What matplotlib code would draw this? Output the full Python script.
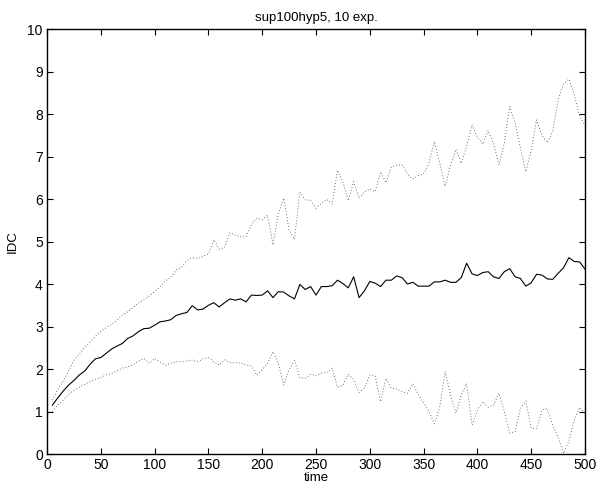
import numpy as np
import matplotlib
matplotlib.use("Agg")
import matplotlib.pyplot as plt

plt.rcParams['font.family'] = ['Liberation Sans', 'DejaVu Sans']

time = list(range(5, 501, 5))

mean_idc = [1.15, 1.32, 1.48, 1.62, 1.73, 1.86, 1.95, 2.11, 2.24, 2.27,
            2.37, 2.47, 2.54, 2.60, 2.72, 2.78, 2.88, 2.95, 2.96, 3.03,
            3.11, 3.13, 3.16, 3.26, 3.30, 3.33, 3.49, 3.39, 3.41, 3.50,
            3.56, 3.46, 3.56, 3.65, 3.62, 3.65, 3.58, 3.74, 3.73, 3.74,
            3.84, 3.68, 3.82, 3.81, 3.72, 3.65, 3.99, 3.87, 3.94, 3.74,
            3.94, 3.94, 3.96, 4.09, 4.01, 3.91, 4.17, 3.68, 3.84, 4.06,
            4.02, 3.94, 4.09, 4.09, 4.19, 4.15, 4.00, 4.04, 3.95, 3.95,
            3.95, 4.05, 4.05, 4.09, 4.04, 4.04, 4.15, 4.49, 4.24, 4.20,
            4.27, 4.29, 4.17, 4.13, 4.29, 4.36, 4.17, 4.13, 3.95, 4.03,
            4.23, 4.21, 4.12, 4.11, 4.25, 4.38, 4.62, 4.53, 4.52, 4.35]

upper_idc = [1.27, 1.52, 1.72, 1.95, 2.20, 2.35, 2.50, 2.64, 2.77, 2.88,
             2.97, 3.05, 3.15, 3.27, 3.35, 3.45, 3.55, 3.63, 3.72, 3.82,
             3.93, 4.08, 4.15, 4.33, 4.40, 4.55, 4.62, 4.60, 4.65, 4.71,
             5.04, 4.82, 4.86, 5.21, 5.15, 5.11, 5.11, 5.40, 5.55, 5.51,
             5.62, 4.92, 5.66, 6.02, 5.27, 5.05, 6.17, 5.98, 5.97, 5.78,
             5.90, 5.99, 5.88, 6.68, 6.40, 5.96, 6.41, 6.02, 6.17, 6.23,
             6.17, 6.64, 6.38, 6.76, 6.80, 6.80, 6.59, 6.47, 6.55, 6.59,
             6.84, 7.35, 6.85, 6.29, 6.80, 7.17, 6.84, 7.25, 7.74, 7.45,
             7.29, 7.61, 7.30, 6.80, 7.31, 8.17, 7.80, 7.20, 6.64, 7.15,
             7.86, 7.50, 7.32, 7.60, 8.33, 8.71, 8.82, 8.45, 7.95, 7.74]

lower_idc = [1.00, 1.15, 1.27, 1.40, 1.50, 1.57, 1.64, 1.70, 1.76, 1.80,
             1.86, 1.90, 1.95, 2.02, 2.05, 2.10, 2.18, 2.25, 2.13, 2.25,
             2.17, 2.09, 2.14, 2.17, 2.17, 2.19, 2.21, 2.17, 2.24, 2.27,
             2.17, 2.09, 2.22, 2.15, 2.15, 2.14, 2.09, 2.07, 1.86, 1.98,
             2.13, 2.41, 2.13, 1.62, 1.98, 2.20, 1.80, 1.78, 1.88, 1.84,
             1.90, 1.92, 2.02, 1.57, 1.62, 1.88, 1.75, 1.45, 1.55, 1.86,
             1.84, 1.23, 1.78, 1.55, 1.53, 1.47, 1.43, 1.66, 1.40, 1.20,
             1.00, 0.71, 1.11, 1.94, 1.39, 0.96, 1.40, 1.66, 0.68, 1.04,
             1.23, 1.10, 1.15, 1.43, 1.00, 0.49, 0.53, 1.07, 1.25, 0.60,
             0.60, 1.04, 1.07, 0.68, 0.39, 0.02, 0.30, 0.80, 1.10, 0.95]

xticks = list(range(0, 501, 50))
yticks = list(range(0, 11))

fig = plt.figure(figsize=(6.08, 4.95), dpi=100)
ax = fig.add_axes([0.0773, 0.0828, 0.8849, 0.8586])

ax.plot(time, upper_idc, color='0.25', linestyle=(0, (1, 2.6)), linewidth=0.6)
ax.plot(time, mean_idc, color='black', linestyle='-', linewidth=0.8)
ax.plot(time, lower_idc, color='0.25', linestyle=(0, (1, 2.6)), linewidth=0.6)

ax.set_xlim(0, 500)
ax.set_ylim(0, 10)
ax.set_xticks(xticks)
ax.set_yticks(yticks)
ax.tick_params(direction='in', length=4, width=0.8, top=True, right=True,
               labelsize=10, pad=3)
for s in ax.spines.values():
    s.set_linewidth(1.0)

ax.set_title('sup100hyp5, 10 exp.', fontsize=9.5, pad=6)
ax.set_xlabel('time', fontsize=9.5, labelpad=0)
ax.set_ylabel('IDC', fontsize=9.5, labelpad=6)

fig.savefig('out.png', dpi=100)
